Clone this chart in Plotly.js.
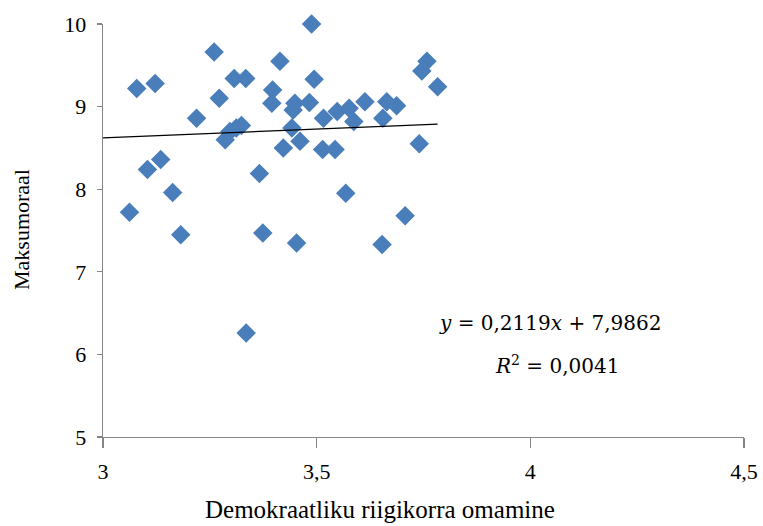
<!DOCTYPE html>
<html>
<head>
<meta charset="utf-8">
<script src="https://cdn.plot.ly/plotly-3.0.1.min.js"></script>
<style>html,body{margin:0;padding:0;background:#fff;}#chart{width:763px;height:526px;}</style>
</head>
<body>
<div id="chart"></div>
<script>
const democracy = [3.062, 3.079, 3.122, 3.135, 3.104, 3.163, 3.182, 3.219, 3.260, 3.272,
  3.286, 3.297, 3.312, 3.324, 3.307, 3.334, 3.335, 3.366, 3.374, 3.397,
  3.395, 3.414, 3.422, 3.442, 3.461, 3.453, 3.449, 3.445, 3.483, 3.488,
  3.494, 3.516, 3.514, 3.543, 3.548, 3.568, 3.576, 3.587, 3.613, 3.655,
  3.664, 3.687, 3.653, 3.707, 3.740, 3.746, 3.758, 3.783];
const morale = [7.72, 9.22, 9.28, 8.36, 8.24, 7.96, 7.45, 8.86, 9.66, 9.10,
  8.60, 8.70, 8.74, 8.77, 9.34, 9.34, 6.26, 8.19, 7.47, 9.20,
  9.04, 9.55, 8.50, 8.74, 8.58, 7.35, 9.04, 8.96, 9.05, 10.00,
  9.33, 8.86, 8.48, 8.48, 8.94, 7.95, 8.98, 8.82, 9.06, 8.86,
  9.06, 9.01, 7.33, 7.68, 8.55, 9.43, 9.55, 9.24];
const slope = 0.2119;
const intercept = 7.9862;
const rSquared = "0,0041";
const xTicks = [3, 3.5, 4, 4.5];
const xTickLabels = ["3", "3,5", "4", "4,5"];
const yTicks = [5, 6, 7, 8, 9, 10];

const xMin = 3.0, xMax = Math.max(...democracy);
const trendX = [xMin, xMax];
const trendY = trendX.map(v => slope * v + intercept);

const serif = "'Liberation Serif', 'Times New Roman', serif";

const data = [
  {
    x: democracy, y: morale, type: 'scatter', mode: 'markers', cliponaxis: false,
    marker: {symbol: 'diamond', size: 15, color: '#4A7EBB', line: {width: 0}},
    hoverinfo: 'x+y'
  },
  {
    x: trendX, y: trendY, type: 'scatter', mode: 'lines', cliponaxis: false,
    line: {color: '#000000', width: 1.3}
  }
];

const layout = {
  width: 763, height: 526,
  margin: {l: 103, r: 19, t: 24, b: 89},
  paper_bgcolor: '#ffffff', plot_bgcolor: '#ffffff',
  showlegend: false,
  separators: ', ',
  font: {family: serif, size: 22, color: '#000000'},
  xaxis: {
    range: [3, 4.5], tickvals: xTicks, ticktext: xTickLabels,
    showgrid: false, zeroline: false, showline: true, linecolor: '#868686', linewidth: 1.3,
    ticks: 'outside', ticklen: 10, tickcolor: '#868686', tickwidth: 1.3,
    tickfont: {family: serif, size: 22, color: '#000'},
    ticklabelstandoff: 4,
    fixedrange: true
  },
  yaxis: {
    range: [5, 10], tickvals: yTicks,
    showgrid: false, zeroline: false, showline: true, linecolor: '#868686', linewidth: 1.3,
    ticks: 'outside', ticklen: 5, tickcolor: '#868686', tickwidth: 1.3,
    tickfont: {family: serif, size: 22, color: '#000'},
    ticklabelstandoff: 6,
    fixedrange: true
  },
  annotations: [
    {xref: 'paper', yref: 'paper', x: (380 - 103) / 641, y: -(509 - 437) / 413, xanchor: 'center', yanchor: 'middle',
     text: 'Demokraatliku riigikorra omamine', showarrow: false, font: {family: serif, size: 25, color: '#000'}},
    {xref: 'paper', yref: 'paper', x: (21 - 103) / 641, y: (437 - 230) / 413, xanchor: 'center', yanchor: 'middle',
     text: 'Maksumoraal', textangle: -90, showarrow: false, font: {family: serif, size: 22, color: '#000'}},
    {xref: 'paper', yref: 'paper', x: (550 - 103) / 641, y: (437 - 323) / 413, xanchor: 'center', yanchor: 'middle',
     text: '<i>y</i> = 0,2119<i>x</i> + 7,9862', showarrow: false, font: {family: "DejaVu Serif, serif", size: 20, color: '#000'}},
    {xref: 'paper', yref: 'paper', x: (557 - 103) / 641, y: (437 - 365) / 413, xanchor: 'center', yanchor: 'middle',
     text: '<i>R</i><sup>2</sup> = ' + rSquared, showarrow: false, font: {family: "DejaVu Serif, serif", size: 20, color: '#000'}}
  ]
};

Plotly.newPlot('chart', data, layout, {displayModeBar: false, staticPlot: true});
</script>
</body>
</html>
